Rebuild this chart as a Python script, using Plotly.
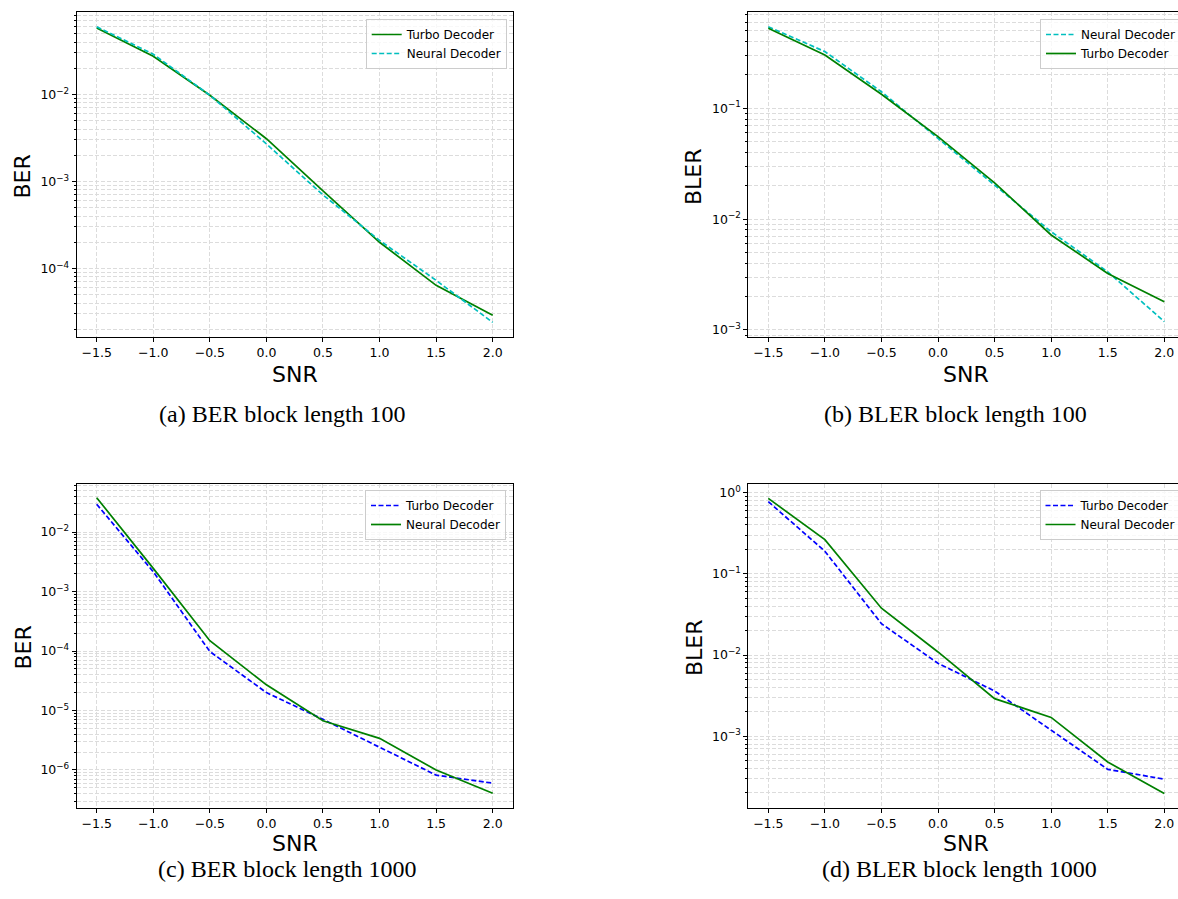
import plotly.graph_objects as go

# ---------------- data ----------------
snr = [-1.5, -1.0, -0.5, 0.0, 0.5, 1.0, 1.5, 2.0]

# (a) BER block length 100
a_turbo = [0.058, 0.0275, 0.0098, 0.0031, 7.8e-4, 2.0e-4, 6.4e-5, 2.9e-5]
a_neural = [0.060, 0.029, 0.0098, 0.0027, 7.0e-4, 2.1e-4, 7.3e-5, 2.4e-5]

# (b) BLER block length 100
b_neural = [0.545, 0.325, 0.141, 0.0536, 0.0203, 0.0077, 0.00335, 0.00119]
b_turbo = [0.527, 0.303, 0.134, 0.0555, 0.0213, 0.0072, 0.00324, 0.0018]

# (c) BER block length 1000
c_turbo = [0.0292, 0.00215, 9.8e-5, 2.0e-5, 7.1e-6, 2.4e-6, 8.2e-7, 6.0e-7]
c_neural = [0.0377, 0.00245, 1.49e-4, 2.7e-5, 6.7e-6, 3.4e-6, 1.0e-6, 4.06e-7]

# (d) BLER block length 1000
d_turbo = [0.775, 0.19, 0.0243, 0.0079, 0.0036, 0.00118, 3.9e-4, 2.95e-4]
d_neural = [0.85, 0.264, 0.0377, 0.0109, 0.0029, 0.0017, 4.8e-4, 1.96e-4]

captions = ["(a) BER block length 100", "(b) BLER block length 100",
            "(c) BER block length 1000", "(d) BLER block length 1000"]
ylabels = ["BER", "BLER", "BER", "BLER"]
xlabel = "SNR"

# y tick decades per panel
a_decades = [-4, -3, -2]
b_decades = [-3, -2, -1]
c_decades = [-6, -5, -4, -3, -2]
d_decades = [-3, -2, -1, 0]

# ---------------- styling ----------------
W, H = 1178, 899
GREEN = "#008000"
CYAN = "#00bfbf"
BLUE = "#0000ff"
GRID = "#dcdcdc"
FONT = "DejaVu Sans"
LW = 1.7

def px_x(p):
    return p / W

def px_y(p):
    return 1 - p / H

def sup(e):
    if e < 0:
        return "10<sup>\u2212%d</sup>" % (-e)
    return "10<sup>%d</sup>" % e

def minor_vals(decs):
    lo, hi = min(decs) - 1, max(decs) + 1
    out = []
    for e in range(lo, hi + 1):
        for k in range(2, 10):
            out.append(k * 10 ** e)
    return out

fig = go.Figure()

def add(x, y, name, color, dash, idx, legend):
    fig.add_trace(go.Scatter(
        x=x, y=y, name=name, mode="lines",
        line=dict(color=color, width=LW, dash=dash),
        xaxis="x" if idx == 1 else "x%d" % idx,
        yaxis="y" if idx == 1 else "y%d" % idx,
        legend=legend, showlegend=True))

DASH = "5px,2.5px"
add(snr, a_turbo, "Turbo Decoder", GREEN, "solid", 1, "legend")
add(snr, a_neural, "Neural Decoder", CYAN, DASH, 1, "legend")
add(snr, b_neural, "Neural Decoder", CYAN, DASH, 2, "legend2")
add(snr, b_turbo, "Turbo Decoder", GREEN, "solid", 2, "legend2")
add(snr, c_turbo, "Turbo Decoder", BLUE, DASH, 3, "legend3")
add(snr, c_neural, "Neural Decoder", GREEN, "solid", 3, "legend3")
add(snr, d_turbo, "Turbo Decoder", BLUE, DASH, 4, "legend4")
add(snr, d_neural, "Neural Decoder", GREEN, "solid", 4, "legend4")

# panel geometry (pixels)
left_a, right_a = 76.7, 512.7
left_b, right_b = 748.3, W
top_row = (11.7, 337.3)
bot_row = (484.0, 808.3)
px_per_unit = 113.14

xr_a = [-1.5 - (96.7 - left_a) / px_per_unit, 2.0 + (right_a - 492.7) / px_per_unit]
xr_b = [-1.5 - (768.3 - left_b) / px_per_unit, -1.5 + (right_b - 768.3) / px_per_unit]

yranges = {1: [-4.791, -1.049], 2: [-3.066, -0.128], 3: [-6.644, -1.193], 4: [-3.889, 0.107]}
decs = {1: a_decades, 2: b_decades, 3: c_decades, 4: d_decades}

tickfont = dict(family=FONT, size=12.5, color="black")

layout = dict(
    width=W, height=H, margin=dict(l=0, r=0, t=0, b=0, autoexpand=False),
    paper_bgcolor="white", plot_bgcolor="white",
    font=dict(family=FONT, color="black"),
)

geom = {
    1: ((left_a, right_a), top_row, xr_a, True),
    2: ((left_b, right_b), top_row, xr_b, False),
    3: ((left_a, right_a), bot_row, xr_a, True),
    4: ((left_b, right_b), bot_row, xr_b, False),
}

for i, ((xl, xr), (yt, yb), xrng, mirror_y) in geom.items():
    xk = "xaxis" if i == 1 else "xaxis%d" % i
    yk = "yaxis" if i == 1 else "yaxis%d" % i
    ya = "y" if i == 1 else "y%d" % i
    xa = "x" if i == 1 else "x%d" % i
    layout[xk] = dict(
        domain=[px_x(xl), px_x(xr)], anchor=ya, range=xrng,
        tick0=-1.5, dtick=0.5, tickformat=".1f", tickfont=tickfont,
        showline=True, linecolor="black", linewidth=1, mirror=True,
        ticks="outside", ticklen=4, tickwidth=1, tickcolor="black",
        showgrid=True, gridcolor=GRID, griddash="4px,2px", gridwidth=1,
        zeroline=False,
    )
    d = decs[i]
    layout[yk] = dict(
        domain=[px_y(yb), px_y(yt)], anchor=xa, type="log", range=yranges[i],
        tickmode="array", tickvals=[10 ** e for e in d], ticktext=[sup(e) for e in d],
        tickfont=tickfont,
        showline=True, linecolor="black", linewidth=1,
        mirror=True if mirror_y else False,
        ticks="outside", ticklen=4, tickwidth=1, tickcolor="black",
        showgrid=True, gridcolor=GRID, griddash="4px,2px", gridwidth=1,
        zeroline=False,
        minor=dict(tickmode="array", tickvals=minor_vals(d), ticks="outside",
                   ticklen=2, tickwidth=0.8, tickcolor="black",
                   showgrid=True, gridcolor=GRID, griddash="4px,2px", gridwidth=1),
    )

legfont = dict(family=FONT, size=12, color="black")
def leg(xpx, ypx, anchor):
    return dict(x=px_x(xpx), y=px_y(ypx), xanchor=anchor, yanchor="top",
                xref="paper", yref="paper",
                bgcolor="rgba(255,255,255,0.8)", bordercolor="#cccccc", borderwidth=1,
                font=legfont, itemwidth=30, tracegroupgap=0)

layout["legend"] = leg(506.7, 19, "right")
layout["legend2"] = leg(1040, 19, "left")
layout["legend3"] = leg(506.0, 490, "right")
layout["legend4"] = leg(1039.5, 490, "left")

annotations = []
centers_x = {1: 294.7, 2: 966.3, 3: 294.7, 4: 966.3}
snr_y = {1: 374, 2: 374, 3: 843, 4: 843}
ylab_pos = {1: (22.5, 177), 2: (694, 177), 3: (22.5, 648), 4: (694, 648)}
cap_pos = {1: (282.7, 414), 2: (955, 414), 3: (287, 869), 4: (959, 869)}
for i in range(1, 5):
    annotations.append(dict(text=xlabel, x=px_x(centers_x[i]), y=px_y(snr_y[i]),
                            xref="paper", yref="paper", showarrow=False,
                            xanchor="center", yanchor="middle",
                            font=dict(family=FONT, size=22, color="black")))
    lx, ly = ylab_pos[i]
    annotations.append(dict(text=ylabels[i - 1], x=px_x(lx), y=px_y(ly),
                            xref="paper", yref="paper", showarrow=False, textangle=-90,
                            xanchor="center", yanchor="middle",
                            font=dict(family=FONT, size=22, color="black")))
    cx, cy = cap_pos[i]
    annotations.append(dict(text=captions[i - 1], x=px_x(cx), y=px_y(cy),
                            xref="paper", yref="paper", showarrow=False,
                            xanchor="center", yanchor="middle",
                            font=dict(family="Liberation Serif", size=24, color="black")))
layout["annotations"] = annotations

fig.update_layout(**layout)
fig.write_html("out.html",
               config={"displayModeBar": False},
               post_script="document.body.style.margin='0px';"
                           "document.body.style.overflow='hidden';"
                           "document.documentElement.style.overflow='hidden';")
